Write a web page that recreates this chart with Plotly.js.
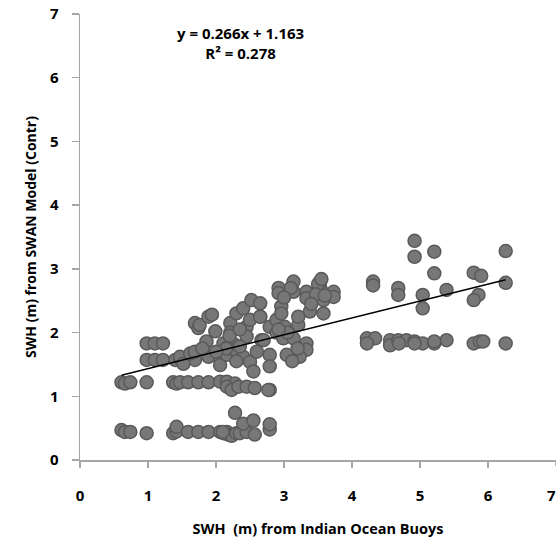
<!DOCTYPE html>
<html>
<head>
<meta charset="utf-8">
<script src="https://cdn.plot.ly/plotly-3.0.1.min.js"></script>
<style>html,body{margin:0;padding:0;background:#fff;}#chart{width:558px;height:540px;}</style>
</head>
<body>
<div id="chart"></div>
<script>
// Buoy SWH (x) vs SWAN model SWH (y)
const buoyX = [
  0.98,1.10,1.22,
  0.98,1.10,1.22,1.40,1.47,1.52,1.69,
  0.61,0.66,0.74,0.98,1.37,1.42,1.47,1.59,1.74,1.89,2.06,2.16,2.28,2.16,2.23,2.33,2.45,2.57,2.79,
  0.61,0.66,0.74,0.98,1.37,1.42,1.42,1.59,1.74,1.89,2.06,2.11,2.16,2.18,2.23,2.30,2.35,2.45,2.57,2.79,2.79,2.40,2.55,2.28,2.10,
  1.47,1.52,1.62,1.69,1.69,1.74,1.76,1.89,1.94,1.99,1.86,1.89,2.06,2.06,2.11,2.16,2.21,2.21,2.25,2.28,2.30,2.40,2.40,2.45,2.45,2.50,2.55,2.52,2.65,2.65,2.67,2.79,2.79,2.79,2.89,2.89,2.15,2.35,2.30,2.60,2.20,2.00,1.80,2.50,2.35,
  2.92,2.92,3.14,3.14,3.33,3.33,3.53,3.53,3.58,3.73,3.73,3.38,3.58,3.58,2.96,2.96,2.65,3.01,3.21,3.21,2.70,2.99,3.14,3.33,3.33,3.04,3.23,2.77,3.50,3.47,3.10,3.00,3.20,3.05,2.92,3.12,3.55,3.60,3.40,
  4.31,4.31,4.68,4.68,4.22,4.34,4.22,4.56,4.56,4.68,4.80,4.92,4.92,5.21,5.21,6.26,6.26,5.79,5.90,5.86,5.79,5.39,5.04,5.04,4.92,5.04,5.21,5.39,5.79,5.88,5.93,6.26,4.69,4.92,5.21
];
const swanY = [
  1.83,1.83,1.83,
  1.57,1.57,1.57,1.57,1.60,1.55,1.57,
  1.22,1.20,1.22,1.22,1.22,1.20,1.22,1.22,1.22,1.22,1.23,1.23,1.20,1.15,1.10,1.15,1.15,1.13,1.10,
  0.47,0.44,0.44,0.42,0.42,0.45,0.52,0.44,0.44,0.44,0.44,0.42,0.44,0.40,0.38,0.42,0.42,0.44,0.40,0.48,0.56,0.57,0.62,0.74,0.44,
  1.62,1.51,1.67,1.70,2.15,2.07,2.12,2.25,2.28,2.02,1.86,1.62,1.60,1.49,1.83,1.65,2.15,2.00,1.83,1.73,2.30,2.38,1.62,2.09,1.94,1.54,1.39,2.51,2.46,2.25,1.88,2.09,1.65,1.47,2.20,2.00,1.75,1.78,1.55,1.70,1.95,1.70,1.75,2.20,2.05,
  2.70,2.62,2.80,2.64,2.64,2.54,2.80,2.72,2.62,2.64,2.56,2.33,2.30,2.51,2.41,2.30,2.25,2.09,2.12,2.25,1.88,1.91,1.91,1.83,1.73,1.65,1.62,1.10,2.76,2.60,2.70,2.55,1.75,2.00,2.05,1.55,2.84,2.58,2.45,
  2.80,2.74,2.70,2.59,1.91,1.91,1.83,1.88,1.80,1.88,1.88,3.44,3.19,3.27,2.93,3.28,2.78,2.94,2.89,2.59,2.51,2.67,2.59,2.38,1.86,1.83,1.83,1.88,1.83,1.86,1.86,1.83,1.83,1.83,1.86
];
// Linear trendline endpoints as drawn
const trendX = [0.61, 6.26];
const trendY = [1.33, 2.83];
const xTicks = [0,1,2,3,4,5,6,7];
const yTicks = [0,1,2,3,4,5,6,7];
const eqText = "y = 0.266x + 1.163<br>R² = 0.278";

const FONT = "Open Sans, Liberation Sans, sans-serif";
const axisCol = "#a6a6a6";
const TICKSIZE = 15;
const bold = v => "<b>" + v + "</b>";

const data = [
  {x: buoyX, y: swanY, type: "scatter", mode: "markers", hoverinfo: "skip",
   marker: {size: 13, color: "#777777", line: {color: "#5a5a5a", width: 1.5}}},
  {x: trendX, y: trendY, type: "scatter", mode: "lines", hoverinfo: "skip",
   line: {color: "#000000", width: 1.5}}
];

// the last x tick label sits at the page edge; draw it as text so it is not dropped
const lastX = xTicks[xTicks.length - 1];

const layout = {
  width: 558, height: 540,
  margin: {l: 80, r: 2, t: 14, b: 80},
  paper_bgcolor: "#ffffff", plot_bgcolor: "#ffffff",
  showlegend: false,
  font: {family: FONT, color: "#000000"},
  xaxis: {
    range: [0, 7], tickvals: xTicks.slice(0, -1), ticktext: xTicks.slice(0, -1).map(bold),
    showgrid: false, zeroline: false, showline: true, linecolor: axisCol, linewidth: 1.5,
    ticks: "outside", ticklen: 6, tickwidth: 1.5, tickcolor: axisCol,
    ticklabelstandoff: 15,
    tickfont: {family: FONT, size: TICKSIZE},
    title: {text: "<b>SWH  (m) from Indian Ocean Buoys</b>", font: {family: FONT, size: 14.5}, standoff: 20}
  },
  yaxis: {
    range: [0, 7], tickvals: yTicks, ticktext: yTicks.map(bold),
    showgrid: false, zeroline: false, showline: true, linecolor: axisCol, linewidth: 1.5,
    ticks: "outside", ticklen: 7, tickwidth: 1.5, tickcolor: axisCol,
    ticklabelstandoff: 10,
    tickfont: {family: FONT, size: TICKSIZE},
    title: {text: "<b>SWH (m) from SWAN Model (Contr)</b>", font: {family: FONT, size: 14}, standoff: 10}
  },
  shapes: [{type: "line", xref: "x", yref: "paper", x0: lastX, x1: lastX, y0: 0, y1: -6 / 446,
            line: {color: axisCol, width: 1.5}}],
  annotations: [
    {xref: "paper", yref: "paper", x: (240 - 80) / 476, y: 1 - (43 - 14) / 446,
     xanchor: "center", yanchor: "middle", showarrow: false, align: "center",
     text: "<b>" + eqText + "</b>", font: {family: FONT, size: 15, color: "#000"}},
    {xref: "paper", yref: "paper", x: (558 - 80) / 476, y: -(495 - 460) / 446, xanchor: "right", yanchor: "middle",
     showarrow: false, text: bold(lastX), font: {family: FONT, size: TICKSIZE, color: "#000"}}
  ]
};

Plotly.newPlot("chart", data, layout, {displayModeBar: false, staticPlot: true});
</script>
</body>
</html>
